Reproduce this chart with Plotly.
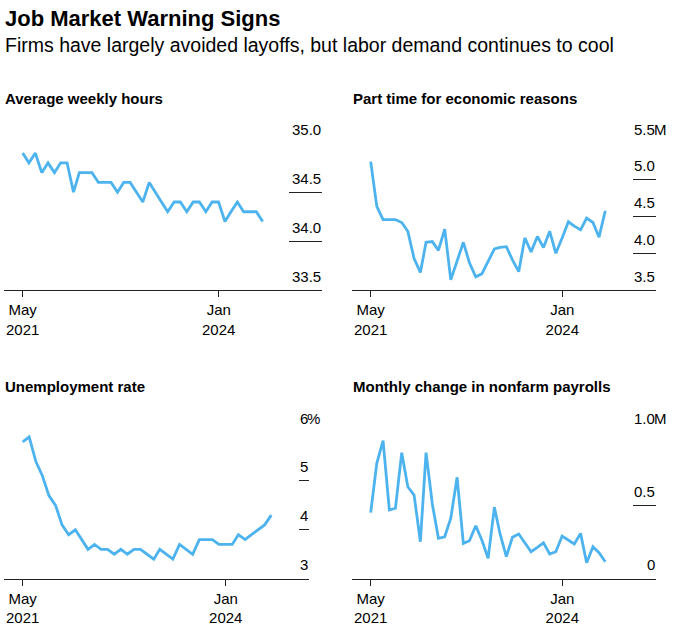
import plotly.graph_objects as go
import pandas as pd

W, H = 684, 642
FONT = "Liberation Sans, Arial, sans-serif"
LINE_COLOR = "#4db3ef"
AXIS_COLOR = "#222222"

# ---------------- data (month-end observations) ----------------
dates = [
    "2021-05-31", "2021-06-30", "2021-07-31", "2021-08-31", "2021-09-30", "2021-10-31",
    "2021-11-30", "2021-12-31", "2022-01-31", "2022-02-28", "2022-03-31", "2022-04-30",
    "2022-05-31", "2022-06-30", "2022-07-31", "2022-08-31", "2022-09-30", "2022-10-31",
    "2022-11-30", "2022-12-31", "2023-01-31", "2023-02-28", "2023-03-31", "2023-04-30",
    "2023-05-31", "2023-06-30", "2023-07-31", "2023-08-31", "2023-09-30", "2023-10-31",
    "2023-11-30", "2023-12-31", "2024-01-31", "2024-02-29", "2024-03-31", "2024-04-30",
    "2024-05-31", "2024-06-30", "2024-07-31",
]

avg_weekly_hours = [
    34.9, 34.8, 34.9, 34.7, 34.8, 34.7, 34.8, 34.8, 34.5, 34.7, 34.7, 34.7, 34.6,
    34.6, 34.6, 34.5, 34.6, 34.6, 34.5, 34.4, 34.6, 34.5, 34.4, 34.3, 34.4, 34.4,
    34.3, 34.4, 34.4, 34.3, 34.4, 34.4, 34.2, 34.3, 34.4, 34.3, 34.3, 34.3, 34.2,
]

part_time_econ = [  # millions
    5.25, 4.64, 4.46, 4.46, 4.46, 4.42, 4.30, 3.93, 3.74, 4.15, 4.16, 4.04, 4.33,
    3.64, 3.91, 4.15, 3.87, 3.68, 3.72, 3.89, 4.06, 4.08, 4.09, 3.91, 3.75, 4.21,
    4.02, 4.23, 4.08, 4.30, 4.00, 4.21, 4.43, 4.37, 4.32, 4.48, 4.42, 4.22, 4.58,
]

unemployment_rate = [  # percent
    5.8, 5.9, 5.4, 5.1, 4.7, 4.5, 4.1, 3.9, 4.0, 3.8, 3.6, 3.7, 3.6,
    3.6, 3.5, 3.6, 3.5, 3.6, 3.6, 3.5, 3.4, 3.6, 3.5, 3.4, 3.7, 3.6,
    3.5, 3.8, 3.8, 3.8, 3.7, 3.7, 3.7, 3.9, 3.8, 3.9, 4.0, 4.1, 4.3,
]

payroll_change = [  # millions
    0.450, 0.786, 0.941, 0.468, 0.480, 0.859, 0.627, 0.570, 0.252, 0.859, 0.509, 0.275, 0.286,
    0.412, 0.691, 0.241, 0.259, 0.361, 0.264, 0.139, 0.487, 0.305, 0.150, 0.282, 0.305, 0.241,
    0.184, 0.214, 0.245, 0.168, 0.184, 0.291, 0.264, 0.237, 0.309, 0.109, 0.218, 0.177, 0.116,
]

x_tick_vals = ["2021-05-31", "2024-01-01"]
x_tick_text = ["May<br>2021", "Jan<br>2024"]

hours_ticks = [35.0, 34.5, 34.0, 33.5]
hours_tick_text = ["35.0", "34.5", "34.0", "33.5"]
parttime_ticks = [5.5, 5.0, 4.5, 4.0, 3.5]
parttime_tick_text = ["5.5", "5.0", "4.5", "4.0", "3.5"]
unemp_ticks = [6, 5, 4, 3]
unemp_tick_text = ["6", "5", "4", "3"]
payroll_ticks = [1.0, 0.5, 0]
payroll_tick_text = ["1.0", "0.5", "0"]

title = "Job Market Warning Signs"
subtitle = "Firms have largely avoided layoffs, but labor demand continues to cool"

# ---------------- layout geometry (pixels) ----------------
panels = [
    dict(values=avg_weekly_hours, name="Average weekly hours", ticks=hours_ticks,
         tick_text=hours_tick_text, suffix="", L=4, R=322, top=143.3, bottom=290,
         x0=22.7, x1=262.7, seg=33, title_base=103.5),
    dict(values=part_time_econ, name="Part time for economic reasons", ticks=parttime_ticks,
         tick_text=parttime_tick_text, suffix="M", L=352, R=656, top=143.3, bottom=290,
         x0=370.7, x1=605.3, seg=23.3, title_base=103.5),
    dict(values=unemployment_rate, name="Unemployment rate", ticks=unemp_ticks,
         tick_text=unemp_tick_text, suffix="%", L=4, R=309, top=432, bottom=578.7,
         x0=22.7, x1=271.3, seg=10.5, title_base=392),
    dict(values=payroll_change, name="Monthly change in nonfarm payrolls", ticks=payroll_ticks,
         tick_text=payroll_tick_text, suffix="M", L=352, R=656, top=432, bottom=578.7,
         x0=370.7, x1=605.3, seg=23.3, title_base=392),
]


def fx(p):
    return p / W


def fy(p):
    return 1 - p / H


fig = go.Figure()
annotations = []
layout_axes = {}

first = pd.Timestamp(dates[0])
last = pd.Timestamp(dates[-1])
span_days = (last - first).days

for i, p in enumerate(panels, start=1):
    sfx = "" if i == 1 else str(i)
    xname, yname = "x" + sfx, "y" + sfx
    fig.add_trace(go.Scatter(
        x=dates, y=p["values"], mode="lines", xaxis=xname, yaxis=yname,
        line=dict(color=LINE_COLOR, width=2.8), hoverinfo="x+y", showlegend=False,
    ))
    ppd = (p["x1"] - p["x0"]) / span_days
    start = first - pd.Timedelta(days=(p["x0"] - p["L"]) / ppd)
    end = last + pd.Timedelta(days=(p["R"] - p["x1"]) / ppd)
    layout_axes["xaxis" + sfx] = dict(
        domain=[fx(p["L"]), fx(p["R"])], range=[str(start), str(end)], type="date",
        anchor=yname, showline=True, linecolor=AXIS_COLOR, linewidth=1,
        ticks="outside", ticklen=6, tickcolor=AXIS_COLOR, tickwidth=1,
        tickvals=x_tick_vals, ticktext=x_tick_text,
        tickfont=dict(family=FONT, size=15, color="#000"),
        showgrid=False, zeroline=False, fixedrange=True,
    )
    layout_axes["yaxis" + sfx] = dict(
        domain=[fy(p["bottom"]), fy(p["top"])], range=[p["ticks"][-1], p["ticks"][0]],
        anchor=xname, side="right", ticks="inside", ticklen=p["seg"], tickwidth=1,
        tickcolor=AXIS_COLOR, tickvals=p["ticks"][:-1], showticklabels=False,
        showgrid=False, zeroline=False, showline=False, fixedrange=True,
    )
    # y tick labels sit above their tick marks, numbers right aligned, unit hanging
    for j, (v, t) in enumerate(zip(p["ticks"], p["tick_text"])):
        annotations.append(dict(
            xref=xname + " domain", yref=yname, x=1, y=v, text=t, showarrow=False,
            xanchor="right", yanchor="middle", yshift=14, xshift=1,
            font=dict(family=FONT, size=15, color="#000"),
        ))
        if j == 0 and p["suffix"]:
            annotations.append(dict(
                xref=xname + " domain", yref=yname, x=1, y=v, text=p["suffix"],
                showarrow=False, xanchor="left", yanchor="middle", yshift=14, xshift=-4,
                font=dict(family=FONT, size=15, color="#000"),
            ))
    annotations.append(dict(
        xref="paper", yref="paper", x=fx(p["L"]), y=fy(p["title_base"] - 5.3),
        text="<b>" + p["name"] + "</b>", showarrow=False, xanchor="left", yanchor="middle",
        xshift=-1, font=dict(family=FONT, size=15, color="#000"),
    ))

annotations.append(dict(
    xref="paper", yref="paper", x=fx(4), y=fy(18.6), text="<b>" + title + "</b>",
    showarrow=False, xanchor="left", yanchor="middle", xshift=-1,
    font=dict(family=FONT, size=22, color="#000"),
))
annotations.append(dict(
    xref="paper", yref="paper", x=fx(4), y=fy(45.0), text=subtitle,
    showarrow=False, xanchor="left", yanchor="middle", xshift=-1,
    font=dict(family=FONT, size=19.5, color="#000"),
))

fig.update_layout(
    width=W, height=H, margin=dict(l=0, r=0, t=0, b=0),
    paper_bgcolor="white", plot_bgcolor="white",
    font=dict(family=FONT, color="#000"),
    annotations=annotations, showlegend=False,
    **layout_axes,
)

fig.write_html("out.html", config={"displayModeBar": False},
               post_script="document.body.style.margin='0';document.body.style.overflow='hidden';")
